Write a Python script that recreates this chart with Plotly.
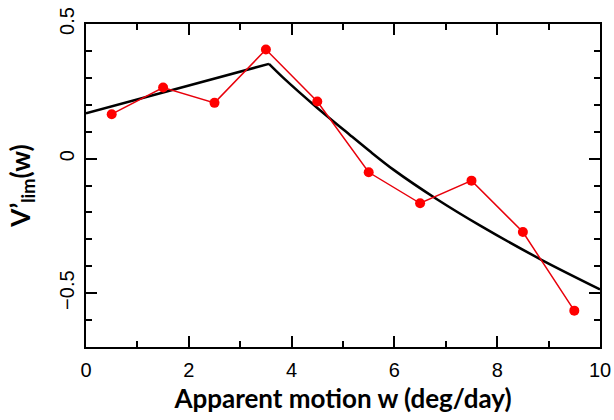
import plotly.graph_objects as go

# Observed data (red points)
obs_w = [0.5, 1.5, 2.5, 3.5, 4.5, 5.5, 6.5, 7.5, 8.5, 9.5]
obs_v = [0.165, 0.264, 0.207, 0.405, 0.212, -0.051, -0.166, -0.082, -0.273, -0.565]

# Model curve (black line)
model_rise_w = [0.0, 3.56]
model_rise_v = [0.168, 0.352]
model_fall_w = [3.56, 3.84, 4.49, 5.14, 5.53, 5.98, 6.82, 7.67, 8.87, 10.0]
model_fall_v = [0.352, 0.300, 0.190, 0.087, 0.026, -0.041, -0.150, -0.249, -0.377, -0.486]

x_title = "Apparent motion w (deg/day)"
y_title = "V’<sub>lim</sub>(w)"

fig = go.Figure()
fig.add_trace(go.Scatter(x=model_rise_w, y=model_rise_v, mode="lines",
                         line=dict(color="black", width=2.5), showlegend=False))
fig.add_trace(go.Scatter(x=model_fall_w, y=model_fall_v, mode="lines",
                         line=dict(color="black", width=2.5, shape="spline", smoothing=0.8),
                         showlegend=False))
fig.add_trace(go.Scatter(x=obs_w, y=obs_v, mode="lines+markers",
                         line=dict(color="#e8000b", width=1.5),
                         marker=dict(color="#ff0000", size=10), showlegend=False))

axis_common = dict(showline=True, linecolor="black", linewidth=2, mirror="ticks",
                   ticks="inside", tickcolor="black", tickwidth=2, ticklen=11,
                   showgrid=False, zeroline=False, automargin=False,
                   tickfont=dict(family="Liberation Sans, Arial", size=20, color="black"))

fig.update_layout(
    width=614, height=420,
    margin=dict(l=86, r=14, t=24, b=73),
    plot_bgcolor="white", paper_bgcolor="white",
    xaxis=dict(range=[0, 10], dtick=2, tick0=0, ticklabelstandoff=4,
               minor=dict(dtick=1, ticks="inside", ticklen=6, tickwidth=2, tickcolor="black"),
               title=dict(text="<b>" + x_title + "</b>", standoff=10,
                          font=dict(family="Lato, Open Sans", size=26, color="black")),
               **axis_common),
    yaxis=dict(range=[-0.7, 0.5], dtick=0.5, tick0=0, tickangle=-90, ticklabelstandoff=2,
               minor=dict(dtick=0.1, ticks="inside", ticklen=6, tickwidth=2, tickcolor="black"),
               title=dict(text="<b>" + y_title + "</b>", standoff=18,
                          font=dict(family="Lato, Open Sans", size=26, color="black")),
               **axis_common),
)

fig.write_html("out.html")
